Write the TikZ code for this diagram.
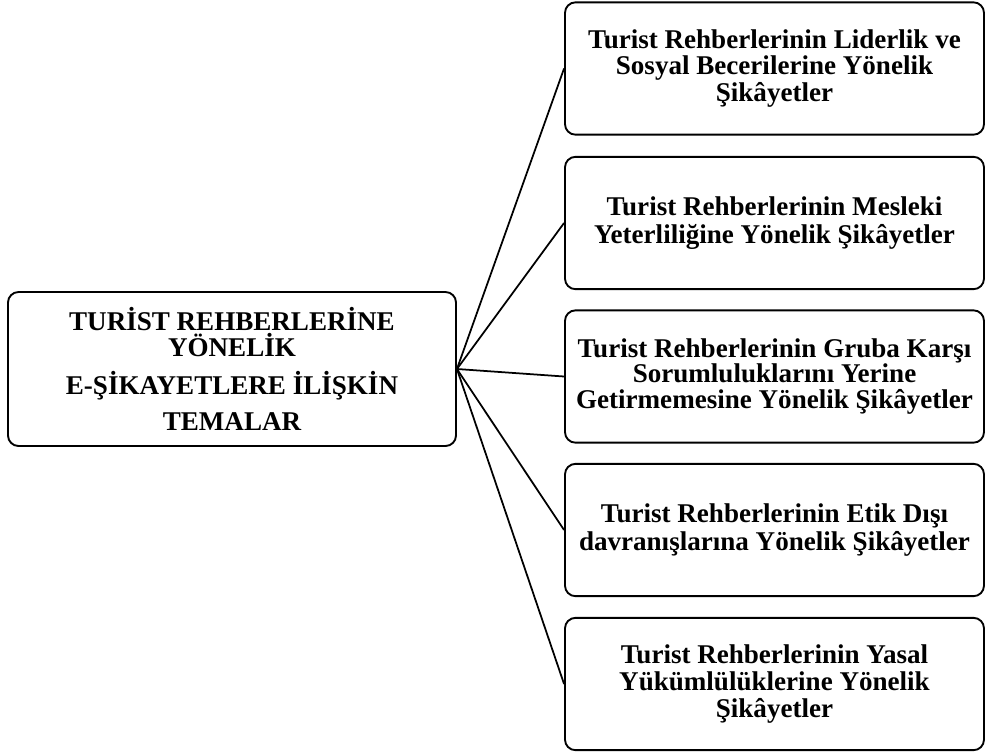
\documentclass[tikz,border=0pt]{standalone}
\usepackage{fontspec}
\setmainfont{Liberation Serif}
\usepackage{tikz}

\tikzset{
	tema/.style={draw, line width=1.6pt, rounded corners=9pt, align=center,
		inner sep=0pt, font=\bfseries\fontsize{23.1}{22.4}\selectfont},
	alttema/.style={tema, minimum width=12.57cm, minimum height=3.97cm}
}

\begin{document}
\begin{tikzpicture}[x=0.03cm, y=-0.03cm]

\useasboundingbox (0,0) rectangle (996,752);

\node[tema, minimum width=13.44cm, minimum height=4.62cm] (ana) at (232,369)
	{TURİST REHBERLERİNE\\[-0.5pt]YÖNELİK\\[10pt]E-ŞİKAYETLERE İLİŞKİN\\[8pt]TEMALAR};

\node[alttema] (t1) at (774.5,68.5)
	{Turist Rehberlerinin Liderlik ve\\Sosyal Becerilerine Yönelik\\Şikâyetler};
\node[alttema] (t2) at (774.5,223)
	{Turist Rehberlerinin Mesleki\\[2pt]Yeterliliğine Yönelik Şikâyetler};
\node[alttema] (t3) at (774.5,376.5)
	{Turist Rehberlerinin Gruba Karşı\\[-0.5pt]Sorumluluklarını Yerine\\[-0.5pt]Getirmemesine Yönelik Şikâyetler};
\node[alttema] (t4) at (774.5,530)
	{Turist Rehberlerinin Etik Dışı\\[2pt]davranışlarına Yönelik Şikâyetler};
\node[alttema] (t5) at (774.5,684)
	{Turist Rehberlerinin Yasal\\[0.5pt]Yükümlülüklerine Yönelik\\[0.5pt]Şikâyetler};

\foreach \i in {1,...,5}{
	\draw[line width=1.5pt] (ana.east) -- (t\i.west);
}

\end{tikzpicture}
\end{document}
